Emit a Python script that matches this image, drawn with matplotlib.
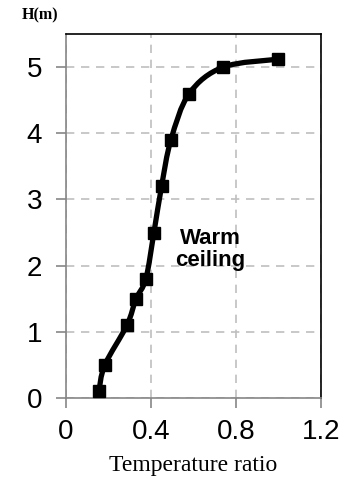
import matplotlib.pyplot as plt
import numpy as np
from matplotlib.path import Path
from matplotlib.patches import PathPatch

# temperature ratio vs height
ratio = [0.155, 0.183, 0.287, 0.33, 0.376, 0.414, 0.45, 0.494, 0.58, 0.74, 1.0]
height = [0.1, 0.5, 1.1, 1.5, 1.8, 2.5, 3.2, 3.9, 4.6, 5.0, 5.12]
xticks = [0, 0.4, 0.8, 1.2]
yticks = [0, 1, 2, 3, 4, 5]

fig = plt.figure(figsize=(3.47, 4.79), dpi=100)
ax = fig.add_axes([0.190, 0.169, 0.735, 0.760])

# smoothed line (catmull-rom -> bezier, like excel smooth line)
x = np.array(ratio)
y = np.array(height)
verts = [(x[0], y[0])]
codes = [Path.MOVETO]
n = len(x)
for i in range(n - 1):
    p0 = np.array([x[max(i - 1, 0)], y[max(i - 1, 0)]])
    p1 = np.array([x[i], y[i]])
    p2 = np.array([x[i + 1], y[i + 1]])
    p3 = np.array([x[min(i + 2, n - 1)], y[min(i + 2, n - 1)]])
    c1 = p1 + (p2 - p0) / 6
    c2 = p2 - (p3 - p1) / 6
    verts += [tuple(c1), tuple(c2), tuple(p2)]
    codes += [Path.CURVE4] * 3
ax.add_patch(PathPatch(Path(verts, codes), fill=False, edgecolor='black', lw=3.8, zorder=3))
ax.plot(ratio, height, ls='none', marker='s', ms=9, color='black', zorder=4)

ax.set_xlim(0, 1.2)
ax.set_ylim(0, 5.5)
ax.set_xticks(xticks)
ax.set_xticklabels(['0', '0.4', '0.8', '1.2'])
ax.set_yticks(yticks)
ax.grid(True, ls=(0, (5, 4)), color='#bfbfbf', lw=1.2)
ax.set_axisbelow(True)

for s in ['left', 'bottom']:
    ax.spines[s].set_color('#868686')
    ax.spines[s].set_linewidth(1.2)
for s in ['top', 'right']:
    ax.spines[s].set_color('black')
    ax.spines[s].set_linewidth(1.2)
ax.tick_params(direction='out', length=7, width=1.2, color='#868686',
               labelsize=20)
ax.tick_params(axis='y', pad=10)
ax.tick_params(axis='x', pad=8)
for lab in ax.get_xticklabels() + ax.get_yticklabels():
    lab.set_fontfamily('Liberation Sans')

ax.set_xlabel('Temperature ratio', fontfamily='Liberation Serif', fontsize=17, labelpad=7)
fig.text(0.063, 0.968, 'H(m)', fontfamily='Liberation Serif', fontweight='bold',
         fontsize=11.5, va='center')
ax.text(0.678, 2.24, 'Warm\nceiling', ha='center', va='center', fontsize=16,
        fontweight='bold', fontfamily='Liberation Sans', linespacing=1.05)

fig.savefig('out.png', dpi=100)
